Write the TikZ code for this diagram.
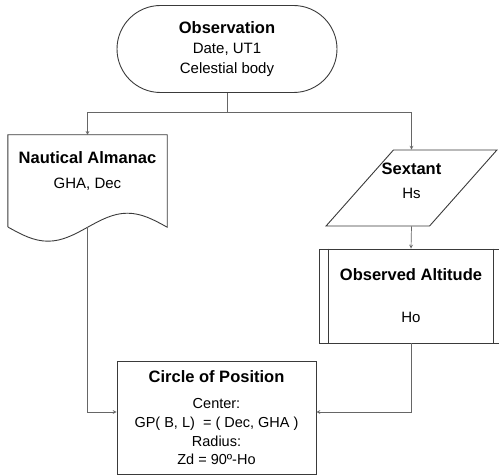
\documentclass[tikz,border=0pt]{standalone}
\usepackage{fontspec}
\setmainfont{Liberation Sans}
\usepackage{xcolor}
\usetikzlibrary{shapes.geometric, shapes.misc, arrows}
\definecolor{boxgray}{HTML}{3A3A3A}
\definecolor{linegray}{HTML}{666666}
\newcommand{\hdfont}{\fontsize{16.5}{20}\selectfont\bfseries}
\newcommand{\txfont}{\fontsize{15}{20}\selectfont}
\newcommand{\smfont}{\fontsize{14.5}{18.7}\selectfont}
\tikzstyle{terminal} = [rounded rectangle, minimum width=220pt, minimum height=87pt, inner sep=0pt, align=center, font=\txfont, draw=boxgray, line width=0.9pt]
\tikzstyle{doc} = [rectangle, minimum width=159pt, minimum height=71pt, inner sep=0pt, align=center, font=\txfont]
\tikzstyle{io} = [trapezium, trapezium left angle=65, trapezium right angle=115, trapezium stretches=true, minimum width=171pt, minimum height=76pt, inner sep=2pt, draw=boxgray, line width=0.9pt]
\tikzstyle{label} = [align=center, inner sep=0pt, font=\txfont]
\tikzstyle{process} = [rectangle, minimum width=184pt, minimum height=94pt, inner sep=0pt, align=center, font=\txfont, draw=boxgray, line width=0.9pt]
\tikzstyle{outline} = [draw=boxgray, line width=0.9pt]
\tikzstyle{line} = [draw=linegray, line width=0.7pt]
\tikzstyle{arrow} = [line, ->, >=stealth]

\begin{document}
\begin{tikzpicture}[x=1pt, y=1pt]
   \useasboundingbox (0,0) rectangle (499,475);
   \node (obs) [terminal] at (227,426) {\hdfont Observation\\Date, UT1\\Celestial body};
   \node (alm) [doc] at (87.5,304.5) {\hdfont Nautical Almanac\\[5pt]GHA, Dec};
   \node (sext) [io] at (411.5,287) {\strut};
   \node (sexttxt) [label] at (411.5,294) {\hdfont Sextant\\[4pt]Hs};
   \node (alt) [process] at (411,179) {\hdfont Observed Altitude\\[22pt]Ho};
   \node (cop) [process, minimum width=199pt, minimum height=113pt, font=\smfont] at (216.5,57.5) {\hdfont Circle of Position\\[8pt]Center:\\GP( B, L)~ = ( Dec, GHA )\\Radius:\\Zd = 90º-Ho};
   % document outline with wavy bottom
   \draw [outline] ([yshift=-21pt]alm.south west) -- (alm.north west) -- (alm.north east) -- ([yshift=-21pt]alm.south east)
      sin ++(-39.75,14) cos ++(-39.75,-14) sin ++(-39.75,-14) cos ++(-39.75,14);
   \coordinate (almbot) at ([yshift=-21pt]alm.south);
   % predefined process bars
   \draw [outline] ([xshift=10pt]alt.north west) -- ([xshift=10pt]alt.south west);
   \draw [outline] ([xshift=-10pt]alt.north east) -- ([xshift=-10pt]alt.south east);
   \draw [line] (obs.south) -- ++(0,-19) coordinate (fork);
   \draw [arrow] (fork) -| (alm.north);
   \draw [arrow] (fork) -| (sext.north);
   \draw [arrow] (sext.south) -- (alt.north);
   \draw [arrow] (almbot) |- ([yshift=5.5pt]cop.west);
   \draw [arrow] (alt.south) |- ([yshift=5.5pt]cop.east);
\end{tikzpicture}
\end{document}
